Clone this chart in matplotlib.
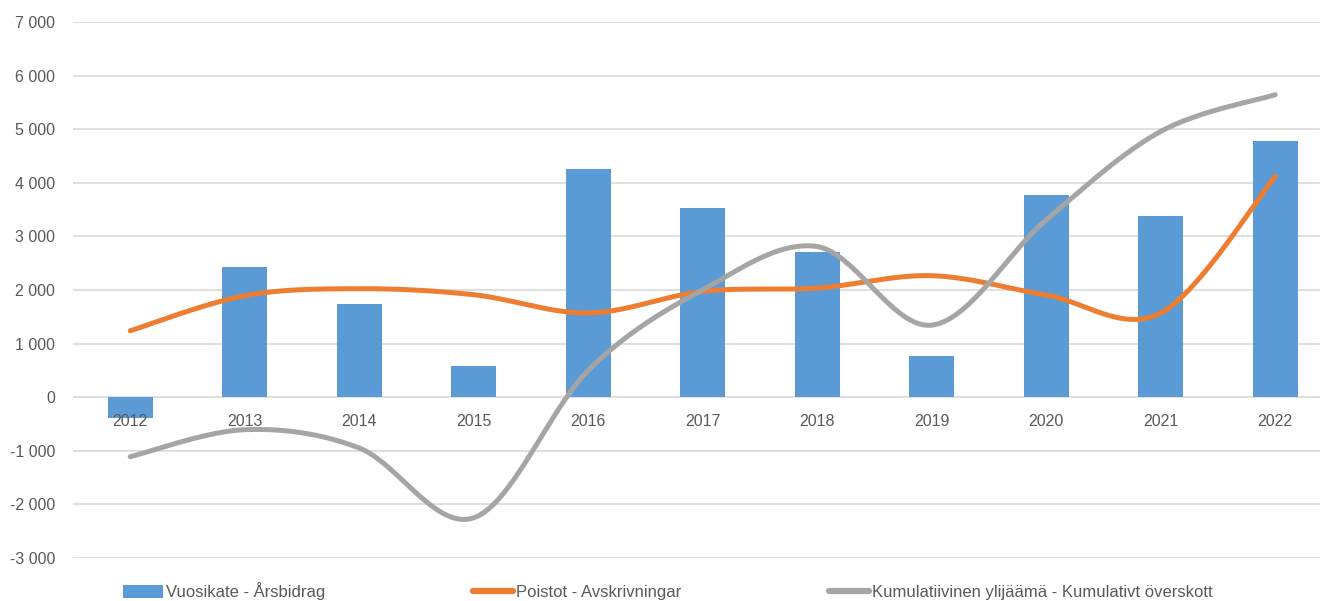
import numpy as np
import matplotlib
matplotlib.use("Agg")
import matplotlib.pyplot as plt
from matplotlib.lines import Line2D
from matplotlib.patches import Patch
from matplotlib.ticker import FuncFormatter, MultipleLocator

years = ["2012", "2013", "2014", "2015", "2016", "2017", "2018", "2019", "2020", "2021", "2022"]
vuosikate = [-380, 2420, 1745, 575, 4255, 3535, 2712, 776, 3766, 3375, 4788]
poistot = [1240, 1894, 2024, 1912, 1571, 1974, 2037, 2267, 1905, 1571, 4120]
kumulatiivinen = [-1110, -606, -948, -2250, 500, 2005, 2810, 1345, 3310, 4959, 5644]

labels = ["Vuosikate - Årsbidrag", "Poistot - Avskrivningar",
          "Kumulatiivinen ylijäämä - Kumulativt överskott"]

BLUE = "#5B9BD5"
ORANGE = "#ED7D31"
GRAY = "#A5A5A5"
TXT = "#595959"
GRID = "#D9D9D9"

plt.rcParams['font.family'] = ['Liberation Sans', 'DejaVu Sans']


def excel_smooth(xs, ys, n=40):
    xs = np.asarray(xs, float)
    ys = np.asarray(ys, float)
    P = np.column_stack([xs, ys])
    m = len(P)
    out = []
    for i in range(m - 1):
        p0 = P[i - 1] if i > 0 else P[i]
        p1 = P[i]
        p2 = P[i + 1]
        p3 = P[i + 2] if i + 2 < m else P[i + 1]
        c1 = p1 + (p2 - p0) / 6.0
        c2 = p2 - (p3 - p1) / 6.0
        t = np.linspace(0, 1, n)[:, None]
        seg = ((1 - t) ** 3) * p1 + 3 * ((1 - t) ** 2) * t * c1 + 3 * (1 - t) * t ** 2 * c2 + t ** 3 * p2
        if i > 0:
            seg = seg[1:]
        out.append(seg)
    out = np.vstack(out)
    return out[:, 0], out[:, 1]


W, H = 1320, 601
fig = plt.figure(figsize=(W / 100, H / 100), dpi=100)
left = 73 / W
width = 11 * 114.5 / W
bottom = 1 - 558 / H
height = 536 / H
ax = fig.add_axes([left, bottom, width, height])

x = np.arange(len(years))
ax.bar(x, vuosikate, width=0.39, color=BLUE, zorder=1)

sx, sy = excel_smooth(x, poistot)
ax.plot(sx, sy, color=ORANGE, lw=3.6, solid_capstyle='round', zorder=3)
sx, sy = excel_smooth(x, kumulatiivinen)
ax.plot(sx, sy, color=GRAY, lw=3.6, solid_capstyle='round', zorder=3)

ax.set_xlim(-0.5, len(years) - 0.5)
ax.set_ylim(-3000, 7000)
ax.yaxis.set_major_locator(MultipleLocator(1000))
ax.yaxis.set_major_formatter(FuncFormatter(lambda v, p: f"{int(round(v)):,}".replace(",", " ")))
ax.yaxis.grid(True, color=GRID, lw=1.2)
ax.xaxis.grid(False)
ax.yaxis.set_zorder(0.5)
ax.xaxis.set_zorder(2.5)

for s in ax.spines.values():
    s.set_visible(False)
ax.spines['bottom'].set_position(('data', 0))

ax.set_xticks(x)
ax.set_xticklabels(years)
ax.tick_params(axis='x', length=0, pad=12, labelsize=11.5, labelcolor=TXT)
ax.tick_params(axis='y', length=0, pad=13, labelsize=11.5, labelcolor=TXT)

handles = [Patch(facecolor=BLUE, edgecolor='none'),
           Line2D([0], [0], color=ORANGE, lw=4.5, solid_capstyle='round'),
           Line2D([0], [0], color=GRAY, lw=4.5, solid_capstyle='round')]
fig.legend(handles, labels, loc='center left', bbox_to_anchor=(123 / W, 1 - 591 / H),
           ncol=3, frameon=False, fontsize=12, labelcolor=TXT,
           handlelength=2.4, handleheight=0.8, handletextpad=0.15, columnspacing=8.9,
           borderpad=0, borderaxespad=0)

fig.savefig("out.png", dpi=100)
